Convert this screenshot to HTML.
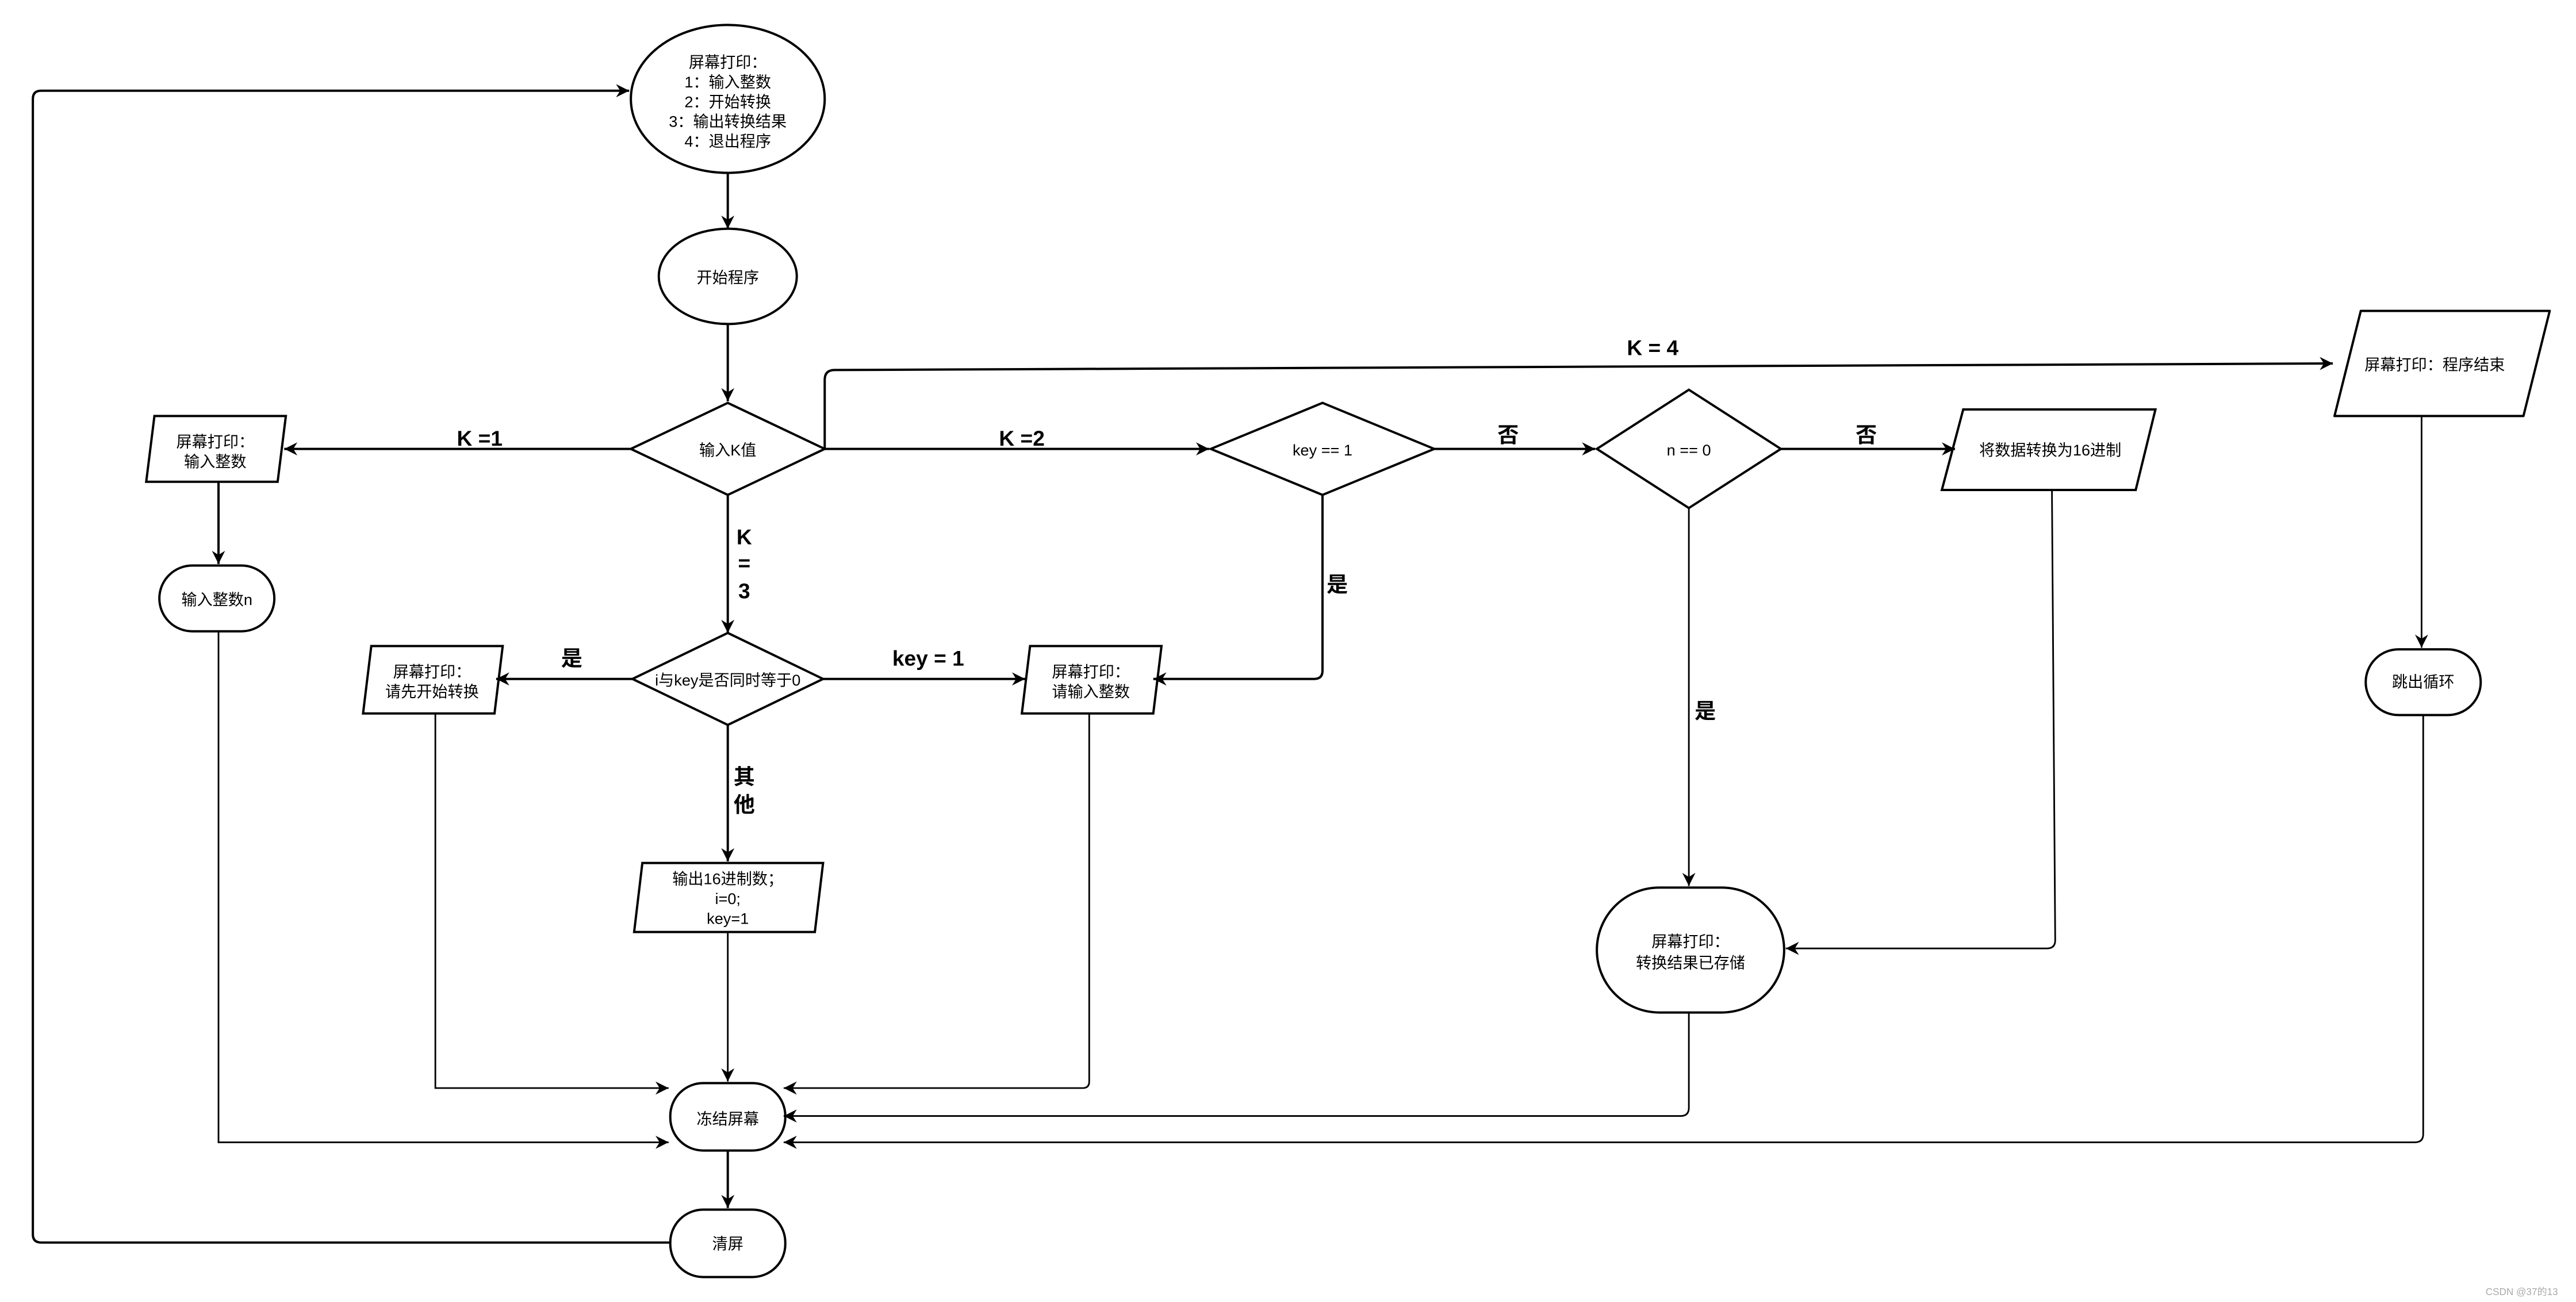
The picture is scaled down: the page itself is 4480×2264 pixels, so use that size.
<!DOCTYPE html>
<html><head><meta charset="utf-8"><style>
html,body{margin:0;padding:0;background:#fff;}
svg{display:block;}
text{font-family:"Liberation Sans","Noto Sans CJK SC",sans-serif;font-size:9.5px;fill:#000;text-anchor:middle;}
.b{font-weight:bold;font-size:13px;}
</style></head><body>
<svg width="4480" height="2264" viewBox="0 0 1568 792" xmlns="http://www.w3.org/2000/svg">
<defs>
<marker id="a" markerWidth="10" markerHeight="10" refX="8" refY="4" orient="auto" markerUnits="userSpaceOnUse">
<path d="M0,0 L8,4 L0,8 L2.5,4 Z" fill="#000"/>
</marker>
</defs>
<g fill="none" stroke="#000" stroke-width="1.4">
<!-- shapes -->
<ellipse cx="443" cy="60" rx="59" ry="45" fill="#fff"/>
<ellipse cx="443" cy="168" rx="42" ry="29" fill="#fff"/>
<polygon points="384,273 443,245 502,273 443,301" fill="#fff"/>
<polygon points="737,273 805,245 873,273 805,301" fill="#fff"/>
<polygon points="972,273 1028,237 1084,273 1028,309" fill="#fff"/>
<polygon points="385,413 443,385 501,413 443,441" fill="#fff"/>
<polygon points="1437,189 1552,189 1536,253 1421,253" fill="#fff" stroke-linejoin="round"/>
<polygon points="1195,249 1312,249 1300,298 1182,298" fill="#fff"/>
<polygon points="94,253 174,253 169,293 89,293" fill="#fff"/>
<polygon points="226,393 306,393 301,434 221,434" fill="#fff"/>
<polygon points="627,393 707,393 702,434 622,434" fill="#fff"/>
<polygon points="391,525 501,525 496,567 386,567" fill="#fff"/>
<rect x="1440" y="395" width="70" height="40" rx="20" fill="#fff"/>
<rect x="97" y="344" width="70" height="40" rx="20" fill="#fff"/>
<rect x="408" y="659" width="70" height="41" rx="20" fill="#fff"/>
<rect x="408" y="736" width="70" height="41" rx="20" fill="#fff"/>
<rect x="972" y="540" width="114" height="76" rx="38" fill="#fff"/>
<!-- connectors -->
<path d="M443,105 V139" marker-end="url(#a)"/>
<path d="M443,197 V244" marker-end="url(#a)"/>
<path d="M502,273 V231 Q502,225 508,225 L1420,221" marker-end="url(#a)"/>
<path d="M1474,253 V394" stroke-width="1" marker-end="url(#a)"/>
<path d="M1475,435 V690 Q1475,695 1470,695 H477" stroke-width="1" marker-end="url(#a)"/>
<path d="M384,273 H173" marker-end="url(#a)"/>
<path d="M133,293 V343" marker-end="url(#a)"/>
<path d="M133,384 V695 H407" stroke-width="1" marker-end="url(#a)"/>
<path d="M502,273 H736" marker-end="url(#a)"/>
<path d="M873,273 H971" marker-end="url(#a)"/>
<path d="M1084,273 H1190" marker-end="url(#a)"/>
<path d="M1249,298 L1251,572 Q1251,577 1246,577 H1087" stroke-width="1" marker-end="url(#a)"/>
<path d="M1028,309 V539" stroke-width="1" marker-end="url(#a)"/>
<path d="M1028,616 V674 Q1028,679 1023,679 H477" stroke-width="1" marker-end="url(#a)"/>
<path d="M805,301 V408 Q805,413 800,413 H702" marker-end="url(#a)"/>
<path d="M443,301 V385" marker-end="url(#a)"/>
<path d="M385,413 H302" marker-end="url(#a)"/>
<path d="M501,413 H624" marker-end="url(#a)"/>
<path d="M443,441 V524" marker-end="url(#a)"/>
<path d="M443,567 V658" stroke-width="1" marker-end="url(#a)"/>
<path d="M265,434 V662 H407" stroke-width="1" marker-end="url(#a)"/>
<path d="M663,434 V658 Q663,662 659,662 H477" stroke-width="1" marker-end="url(#a)"/>
<path d="M443,700 V735" marker-end="url(#a)"/>
<path d="M408,756 H25 Q20,756 20,751 V60 Q20,55 25,55 H383" marker-end="url(#a)"/>
</g>
<!-- texts -->
<text x="443" y="41">屏幕打印：</text>
<text x="443" y="53">1：输入整数</text>
<text x="443" y="65">2：开始转换</text>
<text x="443" y="77">3：输出转换结果</text>
<text x="443" y="89">4：退出程序</text>
<text x="443" y="172">开始程序</text>
<text x="443" y="277">输入K值</text>
<text x="805" y="277">key == 1</text>
<text x="1028" y="277">n == 0</text>
<text x="443" y="417">i与key是否同时等于0</text>
<text x="1482" y="225">屏幕打印：程序结束</text>
<text x="1248" y="277">将数据转换为16进制</text>
<text x="131" y="272">屏幕打印：</text>
<text x="131" y="284">输入整数</text>
<text x="263" y="412">屏幕打印：</text>
<text x="263" y="424">请先开始转换</text>
<text x="664" y="412">屏幕打印：</text>
<text x="664" y="424">请输入整数</text>
<text x="443" y="538">输出16进制数；</text>
<text x="443" y="550">i=0;</text>
<text x="443" y="562">key=1</text>
<text x="1475" y="418">跳出循环</text>
<text x="132" y="368">输入整数n</text>
<text x="443" y="684">冻结屏幕</text>
<text x="443" y="760">清屏</text>
<text x="1029" y="576">屏幕打印：</text>
<text x="1029" y="589">转换结果已存储</text>
<text class="b" x="1006" y="216">K = 4</text>
<text class="b" x="292" y="271">K =1</text>
<text class="b" x="622" y="271">K =2</text>
<text class="b" x="918" y="269">否</text>
<text class="b" x="1136" y="269">否</text>
<text class="b" x="814" y="360">是</text>
<text class="b" x="1038" y="437">是</text>
<text class="b" x="453" y="331">K</text>
<text class="b" x="453" y="347">=</text>
<text class="b" x="453" y="364">3</text>
<text class="b" x="348" y="405">是</text>
<text class="b" x="565" y="405">key = 1</text>
<text class="b" x="453" y="477">其</text>
<text class="b" x="453" y="494">他</text>
<text x="1535" y="788" style="font-size:6px;fill:#aaa;">CSDN @37的13</text>
</svg>
</body></html>
